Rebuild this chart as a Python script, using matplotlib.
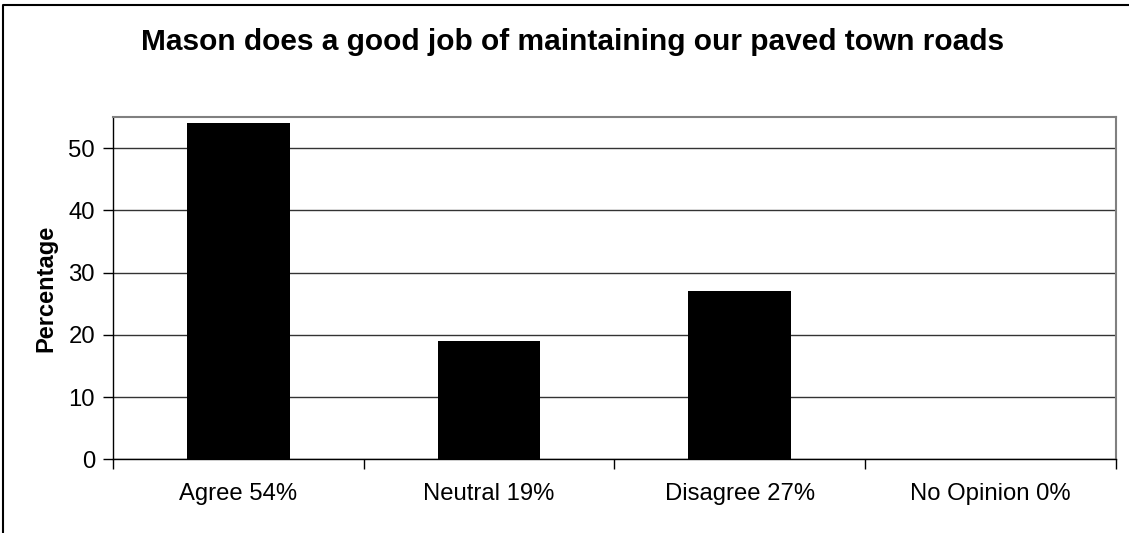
import matplotlib.pyplot as plt
from matplotlib.lines import Line2D

plt.rcParams["font.family"] = ["Liberation Sans", "DejaVu Sans"]

# Survey answers
categories = ["Agree 54%", "Neutral 19%", "Disagree 27%", "No Opinion 0%"]
percentages = [54, 19, 27, 0]
y_ticks = [0, 10, 20, 30, 40, 50]

fig = plt.figure(figsize=(11.29, 5.33), dpi=100)
ax = fig.add_axes([0.1001, 0.1383, 0.8881, 0.6422])

x = range(len(categories))
ax.bar(x, percentages, width=0.41, color="black", zorder=3)

ax.set_xlim(-0.5, len(categories) - 0.5)
ax.set_ylim(0, 55)
ax.set_yticks(y_ticks)
ax.yaxis.grid(True, color="#333333", linewidth=1)
ax.set_axisbelow(True)

# category labels in the middle, ticks on the boundaries
ax.set_xticks(list(x))
ax.set_xticklabels(categories, fontsize=17.2)
ax.tick_params(axis="x", length=0, pad=17)
ax.set_xticks([i - 0.5 for i in range(len(categories) + 1)], minor=True)
ax.tick_params(axis="x", which="minor", length=7, width=1, direction="out")
ax.tick_params(axis="y", length=7, width=1, labelsize=17.2, pad=6)

for side in ["top", "right"]:
    ax.spines[side].set_color("#808080")
    ax.spines[side].set_linewidth(1.5)
for side in ["left", "bottom"]:
    ax.spines[side].set_color("black")
    ax.spines[side].set_linewidth(1)

ax.set_ylabel("Percentage", fontsize=17, fontweight="bold", labelpad=8)
fig.text(0.507, 1 - 42 / 533, "Mason does a good job of maintaining our paved town roads",
         ha="center", va="center", fontsize=21.5, fontweight="bold")

# outer chart border, only left and top edges are visible
bx = 2.5 / 1129
by = 1 - 4.5 / 533
fig.add_artist(Line2D([bx, bx, 1.0], [0.0, by, by], transform=fig.transFigure,
                      color="black", linewidth=1.5))

fig.savefig("out.png", dpi=100)
